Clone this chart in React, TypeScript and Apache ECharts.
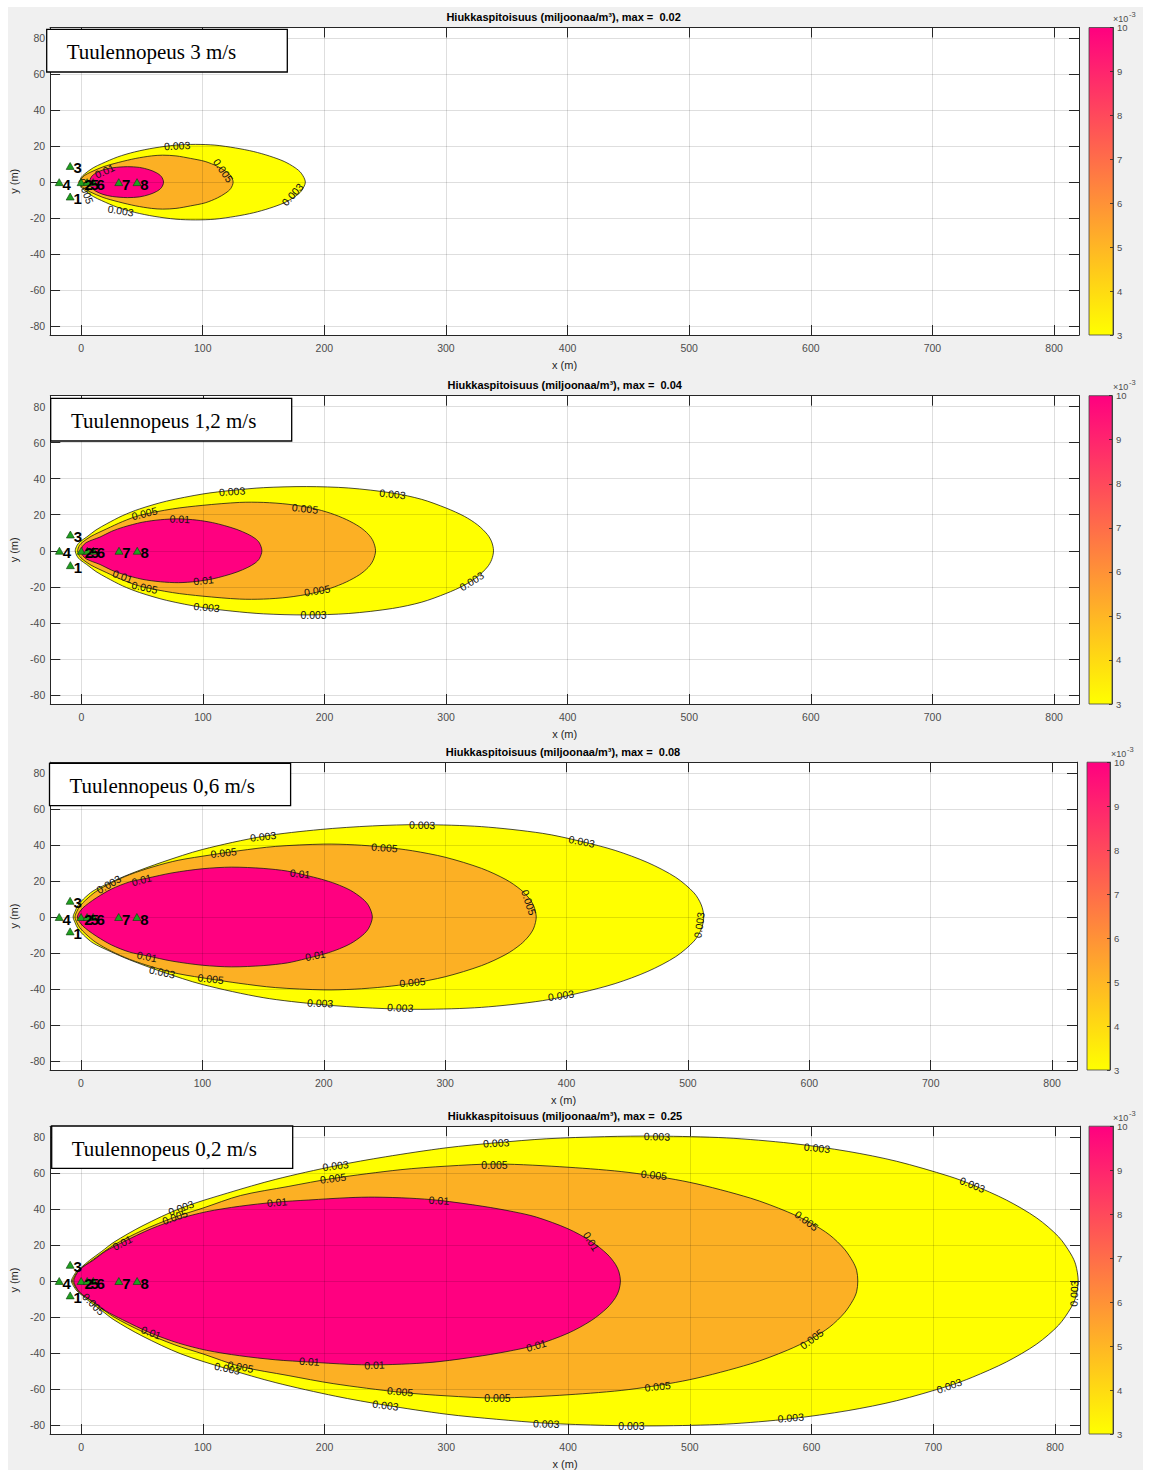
import React, { useEffect, useRef } from 'react';
import * as echarts from 'echarts';

const SANS = '"Liberation Sans", Arial, Helvetica, sans-serif';
const SERIF = '"Liberation Serif", "Times New Roman", Times, serif';

// ---------- data ----------
const panelTitles = ['Tuulennopeus 3 m/s', 'Tuulennopeus 1,2 m/s', 'Tuulennopeus 0,6 m/s', 'Tuulennopeus 0,2 m/s'];
const maxValues = ['0.02', '0.04', '0.08', '0.25'];
const levelNames = ['0.003', '0.005', '0.01'];
const levelColors = ['#ffff00', '#fcb024', '#ff0080'];
const colormapEnds = ['#ff0080', '#ffff00']; // top (10e-3) -> bottom (3e-3)
const colorbarLimits = [3, 10];
const xLimits = [-25.5, 820.5];
const yLimits = [-85, 86];
const xStep = 100;
const yStep = 20;

// measurement points [x, y, label]
const sourcePoints: [number, number, string][] = [
  [-9, -8, '1'], [0, 0, '2'], [-9, 9, '3'], [-18, 0, '4'],
  [5, 0, '5'], [10, 0, '6'], [31, 0, '7'], [46, 0, '8'],
];

// contour upper halves [x, y] (plume is symmetric about y = 0)
// panel 1: 3 m/s
const p1c003 = [[-1, 0], [0, 2.5], [3, 4.6], [10, 8], [17, 10.3], [30, 14], [44, 16.8], [60, 19], [78, 20.6], [94, 21], [110, 20.6], [127, 19], [142, 17], [155, 14.5], [167, 11.5], [176, 8], [181, 5], [184.4, 0]];
const p1c005 = [[-0.5, 0], [0.5, 2.2], [3, 3.8], [8, 5.6], [18, 8.5], [31, 11], [45, 13.2], [58, 14.6], [67, 15], [78, 14.6], [90, 13.2], [102, 11.5], [112, 8.8], [119, 6], [123, 3.6], [125, 0]];
const p1c01 = [[7, 0], [8.5, 3], [12, 5], [18, 6.8], [26, 8], [38, 8.6], [48, 8.2], [56, 6.9], [62, 5.2], [66, 3.1], [67.8, 0]];
// panel 2: 1,2 m/s
const p2c003 = [[-5, 0], [-3.5, 3], [-1, 5], [4.4, 7.6], [12, 11.5], [21, 15], [34, 19.5], [48, 23.2], [70, 27.5], [100, 31.5], [124, 33.5], [150, 35], [185, 35.6], [220, 34.8], [256, 32], [280, 28.5], [300, 23.7], [315, 19.1], [326, 14.3], [334, 9], [337.5, 4.9], [339, 0]];
const p2c005 = [[-3, 0], [-1.5, 3], [1.5, 5], [8, 8], [21, 12.2], [34, 16.2], [48, 19.6], [75, 23.2], [100, 25.2], [130, 26.8], [150, 26.8], [170, 25.8], [190, 23.6], [205, 20.8], [218, 17.3], [229, 13.2], [236, 9.2], [240, 5.3], [242, 0]];
const p2c01 = [[0, 0], [1, 2.5], [4, 4.5], [9, 6], [15.4, 7.6], [25, 10.8], [34.6, 13.1], [50, 15.8], [65, 17.2], [80, 17.7], [95, 17], [108, 15.6], [118, 13.9], [128, 11.8], [137, 9.2], [143, 6.8], [146.5, 4.3], [148.5, 0]];
// panel 3: 0,6 m/s
const p3c003 = [[-6.5, 0], [-5, 3], [-2.5, 6.5], [2, 10], [10, 14.5], [23, 18.8], [40, 23.8], [67, 30.5], [100, 37.5], [150, 44.8], [197, 48.6], [240, 50.6], [280, 51.3], [330, 50.2], [380, 46.5], [412, 42], [440, 37], [467, 30.2], [490, 22], [505, 13.4], [511, 6.7], [513, 0]];
const p3c005 = [[-5, 0], [-3.5, 3], [-1, 6], [4, 9.5], [12, 14], [25, 19], [40, 23.5], [60, 28], [80, 31.5], [107, 34.5], [130, 36.8], [160, 39.2], [200, 40.5], [225, 40.1], [250, 38.8], [273, 36.8], [300, 33.2], [330, 27], [350, 20.8], [362, 15.3], [369, 10.5], [373, 6.1], [375, 0]];
const p3c01 = [[-3, 0], [-1.5, 2.5], [1.5, 5], [6, 7.5], [13, 10.8], [25, 15.5], [40, 19.5], [54, 21.5], [75, 24.5], [100, 26.8], [124, 27.7], [150, 27], [170, 25.5], [185, 23.2], [198, 21], [210, 18.4], [222, 14.8], [232, 10.1], [237, 6.2], [240, 0]];
// panel 4: 0,2 m/s
const p4c003 = [[-8, 0], [-6.5, 2.5], [-3.5, 5.5], [0.5, 7.8], [7, 11.5], [17, 16.5], [27, 21.6], [50, 30.5], [82, 40.5], [120, 48.8], [160, 56.5], [209, 64], [250, 69], [300, 74], [341, 76.8], [382, 79], [430, 80.2], [473, 80.5], [530, 79.5], [583, 76.5], [630, 72], [670, 66.5], [713, 58.2], [732, 53.5], [760, 45], [785, 35], [803, 24.5], [813, 15], [817, 9], [819, 0]];
const p4c005 = [[-7, 0], [-5.5, 2.5], [-2.5, 5.5], [1, 7.5], [10, 12], [27, 20], [50, 28], [77, 35.5], [100, 40.5], [131, 47.5], [170, 52.5], [207, 57], [262, 61.8], [300, 63.8], [342, 65], [400, 63.2], [450, 60.3], [500, 54.8], [550, 46], [580, 38.5], [600, 32], [615, 25.5], [627, 17.7], [634, 10.7], [637, 6], [638, 0]];
const p4c01 = [[-6, 0], [-4.5, 3], [-1.5, 6], [4, 9], [10, 11.5], [20, 16.5], [34, 21.5], [57.5, 29], [80, 34.5], [103, 38.5], [130, 41.5], [160, 43.8], [187, 45], [220, 46.3], [241, 46.6], [270, 46], [294, 44.8], [330, 41.5], [355, 38.5], [374, 35.5], [400, 29], [419, 22], [432, 15], [439, 9.2], [441.8, 5], [443, 0]];

const panelContours = [
  [p1c003, p1c005, p1c01],
  [p2c003, p2c005, p2c01],
  [p3c003, p3c005, p3c01],
  [p4c003, p4c005, p4c01],
];

// contour labels [x, y, text, rotation deg]
const p1Labels: [number, number, string, number][] = [
  [79, 20.3, '0.003', 3], [117, 6.5, '0.005', -55], [174, -7, '0.003', 48], [32.6, -15.8, '0.003', -9],
  [19.5, 6, '0.01', 25], [4, -5, '0.005', -70],
];
const p2Labels: [number, number, string, number][] = [
  [124, 33, '0.003', 4], [256, 31.5, '0.003', -6], [52, 20.5, '0.005', 14], [81, 17.4, '0.01', -2],
  [184, 23.5, '0.005', -6], [321, -16.8, '0.003', 32], [194, -22, '0.005', 9], [100.5, -16.4, '0.01', 6],
  [191, -35.6, '0.003', 0], [103, -31.5, '0.003', -5], [52, -20.5, '0.005', -12], [34, -14.2, '0.01', -20],
];
const p3Labels: [number, number, string, number][] = [
  [281, 51.2, '0.003', -1], [150, 44.8, '0.003', 6], [412.5, 42, '0.003', -11], [117.5, 35.8, '0.005', 6],
  [250, 38.6, '0.005', -4], [50, 20.4, '0.01', 14], [180.4, 24.1, '0.01', -6], [23, 18, '0.003', 30],
  [368.6, 8, '0.005', -72], [509.6, -4.5, '0.003', 82], [54.3, -21.9, '0.01', -11], [193, -21.3, '0.01', 11],
  [66.8, -30.8, '0.003', -12], [106.8, -34.3, '0.005', -6], [273, -36.5, '0.005', 5], [197, -48, '0.003', -2],
  [263, -50.6, '0.003', -2], [395.4, -43.8, '0.003', 8],
];
const p4Labels: [number, number, string, number][] = [
  [209, 64.1, '0.003', 7], [207, 57.1, '0.005', 7], [82, 40.7, '0.003', 20], [77, 35.5, '0.005', 20],
  [161, 43.5, '0.01', 5], [34, 21, '0.01', 27], [294, 44.8, '0.01', -3], [57.5, -28.6, '0.01', -20],
  [131, -47.6, '0.005', -10], [120, -48.8, '0.003', -12], [187.5, -44.6, '0.01', -3], [241, -46.6, '0.01', 3],
  [262, -61.6, '0.005', -5], [250, -69, '0.003', -7], [341, 76.8, '0.003', 3], [473, 80.4, '0.003', -1],
  [604.5, 74, '0.003', -6], [732, 53.3, '0.003', -22], [339.5, 64.5, '0.005', 0], [470.5, 59, '0.005', -6],
  [596, 33.5, '0.005', -37], [419, 22, '0.01', -58], [816, -7, '0.003', 88], [600, -32.2, '0.005', 37],
  [374, -36, '0.01', 16], [473.5, -58.5, '0.005', 6], [342, -64.8, '0.005', 0], [382, -79.2, '0.003', -1],
  [452, -80.4, '0.003', 0], [583, -76.2, '0.003', 5], [713, -58.2, '0.003', 20], [10, -13, '0.005', -45],
];
const panelLabels = [p1Labels, p2Labels, p3Labels, p4Labels];

// ---------- layout (pixels) ----------
const panelBoxes = [
  { left: 48.2, right: 1079, top: 27.5, bottom: 335, cbLeft: 1089, cbRight: 1113, box: [46.7, 29.3, 287.3, 72], textX: 66.7, textBase: 59.3 },
  { left: 50.3, right: 1079, top: 395.7, bottom: 704, cbLeft: 1089, cbRight: 1112, box: [50.7, 398.3, 291.7, 441], textX: 71, textBase: 428.3 },
  { left: 49, right: 1077, top: 762.2, bottom: 1070, cbLeft: 1087, cbRight: 1110, box: [49.5, 763.3, 290.6, 805.7], textX: 69.5, textBase: 792.7 },
  { left: 50, right: 1080, top: 1126.2, bottom: 1434, cbLeft: 1089, cbRight: 1113, box: [51.7, 1126, 292.7, 1168.3], textX: 71.7, textBase: 1156 },
];

const AXIS_COLOR = '#262626';
const LABEL_COLOR = '#4d4d4d';
const GRID_LINE = 'rgba(0,0,0,0.13)';

function closeContour(upper: number[][]): number[][] {
  const lower = upper.slice(1, -1).reverse().map(([x, y]) => [x, -y]);
  return [...upper, ...lower];
}

function stepFormatter(step: number) {
  return (v: number) => (Math.abs(v - Math.round(v / step) * step) < 1e-6 ? String(Math.round(v)) : '');
}

function buildOption() {
  const grid: any[] = [];
  const xAxis: any[] = [];
  const yAxis: any[] = [];
  const series: any[] = [];
  const graphic: any[] = [];

  panelBoxes.forEach((b, pi) => {
    const h = b.bottom - b.top;
    grid.push({ left: b.left, top: b.top, width: b.right - b.left, height: h, show: true, backgroundColor: '#ffffff', borderWidth: 0 });
    grid.push({ left: b.cbLeft, top: b.top, width: b.cbRight - b.cbLeft, height: h, show: false });
    const gi = pi * 2;
    const ai = pi * 3;

    const lineStyle = { color: AXIS_COLOR, width: 1 };
    xAxis.push({
      gridIndex: gi, type: 'value', min: xLimits[0], max: xLimits[1], splitNumber: 8,
      minInterval: xStep, maxInterval: xStep, z: 3,
      axisLine: { show: true, onZero: false, lineStyle },
      axisTick: { show: true, inside: true, length: 10, lineStyle },
      axisLabel: { show: true, color: LABEL_COLOR, fontSize: 10.5, fontFamily: SANS, margin: 7, formatter: stepFormatter(xStep), showMinLabel: false, showMaxLabel: false },
      splitLine: { show: true, lineStyle: { color: GRID_LINE, width: 1 } },
      name: 'x (m)', nameLocation: 'middle', nameGap: 24,
      nameTextStyle: { color: AXIS_COLOR, fontSize: 11, fontFamily: SANS },
    });
    xAxis.push({
      gridIndex: gi, type: 'value', position: 'top', min: xLimits[0], max: xLimits[1], splitNumber: 8,
      minInterval: xStep, maxInterval: xStep, z: 3,
      axisLine: { show: true, onZero: false, lineStyle },
      axisTick: { show: true, inside: true, length: 10, lineStyle },
      axisLabel: { show: false }, splitLine: { show: false },
    });
    xAxis.push({ gridIndex: gi + 1, type: 'value', min: 0, max: 1, show: false });

    yAxis.push({
      gridIndex: gi, type: 'value', min: yLimits[0], max: yLimits[1], splitNumber: 8,
      minInterval: yStep, maxInterval: yStep, z: 3,
      axisLine: { show: true, onZero: false, lineStyle },
      axisTick: { show: true, inside: true, length: 10, lineStyle },
      axisLabel: { show: true, color: LABEL_COLOR, fontSize: 10.5, fontFamily: SANS, margin: 5, formatter: stepFormatter(yStep), showMinLabel: false, showMaxLabel: false },
      splitLine: { show: true, lineStyle: { color: GRID_LINE, width: 1 } },
      name: 'y (m)', nameLocation: 'middle', nameGap: 18,
      nameTextStyle: { color: AXIS_COLOR, fontSize: 11, fontFamily: SANS },
    });
    yAxis.push({
      gridIndex: gi, type: 'value', position: 'right', min: yLimits[0], max: yLimits[1], splitNumber: 8,
      minInterval: yStep, maxInterval: yStep, z: 3,
      axisLine: { show: true, onZero: false, lineStyle },
      axisTick: { show: true, inside: true, length: 10, lineStyle },
      axisLabel: { show: false }, splitLine: { show: false },
    });
    yAxis.push({
      gridIndex: gi + 1, type: 'value', position: 'right', min: colorbarLimits[0], max: colorbarLimits[1], interval: 1, z: 3,
      axisLine: { show: true, onZero: false, lineStyle: { color: AXIS_COLOR, width: 0.8 } },
      axisTick: { show: true, inside: true, length: 3, lineStyle: { color: AXIS_COLOR, width: 0.8 } },
      axisLabel: { show: true, color: LABEL_COLOR, fontSize: 9.5, fontFamily: SANS, margin: 4 },
      splitLine: { show: false },
    });

    // filled contours
    const contours = panelContours[pi];
    series.push({
      type: 'custom', xAxisIndex: ai, yAxisIndex: ai, z: 2, silent: true, clip: true,
      data: contours.map((c, li) => [c[c.length - 1][0], 0, li]),
      renderItem: (params: any, api: any) => {
        const li = params.dataIndex;
        const pts = closeContour(contours[li]).map((p) => api.coord(p));
        return {
          type: 'polygon', z2: li,
          shape: { points: pts, smooth: 0.3 },
          style: { fill: levelColors[li], stroke: '#111111', lineWidth: 0.75 },
        };
      },
    });

    // contour labels
    const labels = panelLabels[pi];
    series.push({
      type: 'custom', xAxisIndex: ai, yAxisIndex: ai, z: 4, silent: true, clip: true,
      data: labels.map((l) => [l[0], l[1]]),
      renderItem: (params: any, api: any) => {
        const l = labels[params.dataIndex];
        const p = api.coord([l[0], l[1]]);
        return {
          type: 'text', x: p[0], y: p[1], rotation: (l[3] * Math.PI) / 180,
          style: {
            text: l[2], fill: '#111111', fontSize: 10.5, fontFamily: SANS,
            align: 'center', verticalAlign: 'middle', textAlign: 'center', textVerticalAlign: 'middle',
          },
        };
      },
    });

    // measurement points
    series.push({
      type: 'scatter', xAxisIndex: ai, yAxisIndex: ai, z: 6, silent: true,
      symbol: 'triangle', symbolSize: [8, 7],
      itemStyle: { color: '#1fa01f', borderColor: '#0b3d0b', borderWidth: 0.6, opacity: 1 },
      data: sourcePoints.map((s) => [s[0], s[1]]),
      label: {
        show: true, position: 'right', distance: -1, offset: [0, 2],
        formatter: (p: any) => sourcePoints[p.dataIndex][2],
        color: '#000000', fontSize: 15, fontWeight: 'bold', fontFamily: SANS,
      },
    });

    // colorbar
    series.push({
      type: 'custom', xAxisIndex: ai + 2, yAxisIndex: ai + 2, z: 2, silent: true,
      data: [[0, colorbarLimits[0], 1, colorbarLimits[1]]],
      renderItem: (params: any, api: any) => {
        const a = api.coord([0, colorbarLimits[0]]);
        const c = api.coord([1, colorbarLimits[1]]);
        return {
          type: 'rect',
          shape: { x: a[0], y: c[1], width: c[0] - a[0], height: a[1] - c[1] },
          style: {
            fill: new echarts.graphic.LinearGradient(0, 0, 0, 1, [
              { offset: 0, color: colormapEnds[0] },
              { offset: 1, color: colormapEnds[1] },
            ]),
            stroke: '#444444', lineWidth: 0.8,
          },
        };
      },
    });

    // title
    graphic.push({
      type: 'text', z: 10, x: (b.left + b.right) / 2, y: b.top - 10.5,
      style: {
        text: `Hiukkaspitoisuus (miljoonaa/m³), max =  ${maxValues[pi]}`,
        fill: '#000000', fontSize: 11, fontWeight: 'bold', fontFamily: SANS,
        align: 'center', verticalAlign: 'middle', textAlign: 'center', textVerticalAlign: 'middle',
      },
    });
    // wind speed box
    graphic.push({
      type: 'rect', z: 10,
      shape: { x: b.box[0], y: b.box[1], width: b.box[2] - b.box[0], height: b.box[3] - b.box[1] },
      style: { fill: '#ffffff', stroke: '#000000', lineWidth: 1.3 },
    });
    graphic.push({
      type: 'text', z: 11, x: b.textX, y: b.textBase - 7.1,
      style: {
        text: panelTitles[pi], fill: '#000000', fontSize: 21, fontFamily: SERIF,
        align: 'left', verticalAlign: 'middle', textAlign: 'left', textVerticalAlign: 'middle',
      },
    });
    // colorbar exponent
    graphic.push({
      type: 'text', z: 10, x: b.cbLeft + 24, y: b.top - 8.5,
      style: { text: '×10', fill: LABEL_COLOR, fontSize: 9, fontFamily: SANS, align: 'left', verticalAlign: 'middle', textAlign: 'left', textVerticalAlign: 'middle' },
    });
    graphic.push({
      type: 'text', z: 10, x: b.cbLeft + 40, y: b.top - 13,
      style: { text: '-3', fill: LABEL_COLOR, fontSize: 7.5, fontFamily: SANS, align: 'left', verticalAlign: 'middle', textAlign: 'left', textVerticalAlign: 'middle' },
    });
  });

  return {
    animation: false,
    backgroundColor: 'transparent',
    grid, xAxis, yAxis, series, graphic,
  };
}

export default function App() {
  const ref = useRef<HTMLDivElement>(null);
  useEffect(() => {
    document.body.style.margin = '0';
    const chart = echarts.init(ref.current as HTMLDivElement, null, { renderer: 'svg' });
    chart.setOption(buildOption() as any);
    return () => chart.dispose();
  }, []);
  return (
    <div
      ref={ref}
      style={{
        position: 'absolute', left: 0, top: 0, width: 1152, height: 1470,
        background: 'linear-gradient(#f0f0f0, #f0f0f0) 8px 7px / 1135px 1463px no-repeat, #ffffff',
      }}
    />
  );
}
